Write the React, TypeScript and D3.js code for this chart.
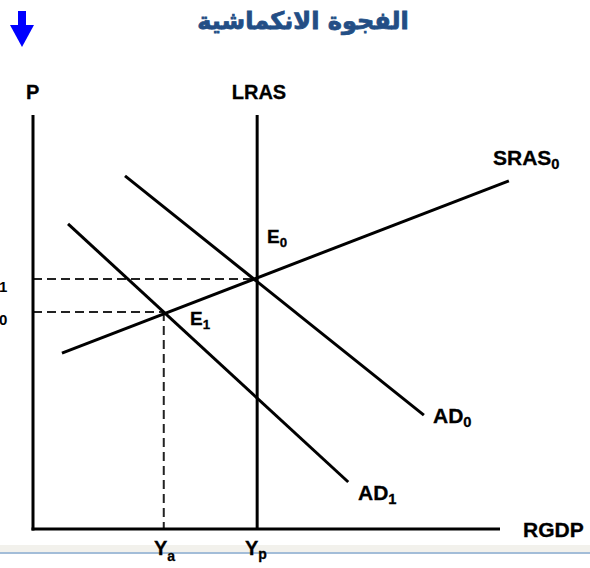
import React from "react";
import * as d3 from "d3";

const W = 590;
const H = 568;

// data-space curves (x: real GDP, y: price level)
const lrasX = 48;
const yaX = 28;
const priceLevels = [
  { name: "P1", y: 60.4, x: 48 },
  { name: "P0", y: 52.4, x: 28 },
];
const srasLine = [
  [6.2, 42.5],
  [101.9, 84.1],
];
const ad0Line = [
  [19.7, 85.3],
  [83.7, 27.5],
];
const ad1Line = [
  [7.5, 73.7],
  [67.5, 11.35],
];
const axisTop = 100;
const axisRight = 100;

export default function App() {
  const x = d3.scaleLinear().domain([0, 100]).range([33, 500]);
  const y = d3.scaleLinear().domain([0, 100]).range([529, 115]);
  const line = d3
    .line<number[]>()
    .x((d) => x(d[0]))
    .y((d) => y(d[1]));

  const font = "'Liberation Sans', Arial, sans-serif";
  const lbl = (
    tx: number,
    ty: number,
    main: string,
    sub: string | null,
    size = 21,
    anchor: "start" | "middle" | "end" = "start",
    subDy = 4
  ) => (
    <text
      x={tx}
      y={ty}
      fontFamily={font}
      fontWeight="bold"
      fontSize={size}
      fill="#000"
      stroke="#000"
      strokeWidth={0.3}
      textAnchor={anchor}
    >
      {main}
      {sub !== null && (
        <tspan fontSize={size * 0.7} dy={subDy}>
          {sub}
        </tspan>
      )}
    </text>
  );

  return (
    <svg
      width={W}
      height={H}
      style={{ position: "absolute", left: 0, top: 0, background: "#fff" }}
    >
      <rect x={0} y={0} width={W} height={H} fill="#fff" />
      {/* bottom band */}
      <rect x={0} y={545} width={W} height={8} fill="#f2f1ec" />
      <rect x={0} y={552} width={W} height={2} fill="#a3bdd8" />

      {/* title */}
      <text
        x={303}
        y={29}
        textAnchor="middle"
        fontFamily="'DejaVu Sans', sans-serif"
        fontWeight="bold"
        fontSize={24}
        fill="#234e85"
        stroke="#234e85"
        strokeWidth={0.8}
        direction="rtl"
      >
        الفجوة الانكماشية
      </text>

      {/* arrow */}
      <rect x={18} y={11} width={8} height={15} fill="#0000ff" />
      <polygon points="10,25 34,25 22,47" fill="#0000ff" />

      {/* dashed guides */}
      {priceLevels.map((p) => (
        <line
          key={p.name}
          x1={x(0)}
          x2={x(p.x)}
          y1={y(p.y)}
          y2={y(p.y)}
          stroke="#222"
          strokeWidth={2}
          strokeDasharray="9,5"
        />
      ))}
      <line
        x1={x(yaX)}
        x2={x(yaX)}
        y1={y(52.4)}
        y2={y(0)}
        stroke="#222"
        strokeWidth={2}
        strokeDasharray="9,5"
      />

      {/* axes */}
      <line x1={x(0)} x2={x(0)} y1={y(axisTop)} y2={y(0) + 1.5} stroke="#000" strokeWidth={3} />
      <line x1={x(0) - 1.5} x2={x(axisRight)} y1={y(0)} y2={y(0)} stroke="#000" strokeWidth={3} />
      <line x1={x(lrasX)} x2={x(lrasX)} y1={y(axisTop)} y2={y(0)} stroke="#000" strokeWidth={3} />

      {/* curves */}
      <path d={line(srasLine) || ""} stroke="#000" strokeWidth={3} fill="none" />
      <path d={line(ad0Line) || ""} stroke="#000" strokeWidth={3} fill="none" />
      <path d={line(ad1Line) || ""} stroke="#000" strokeWidth={3} fill="none" />

      {/* labels */}
      {lbl(26, 99, "P", null, 20)}
      {lbl(259, 99, "LRAS", null, 20, "middle")}
      {lbl(493, 165, "SRAS", "0", 21)}
      {lbl(267, 243, "E", "0", 19)}
      {lbl(190, 325, "E", "1", 19)}
      {lbl(433, 423, "AD", "0", 21)}
      {lbl(358, 500, "AD", "1", 21)}
      {lbl(523, 537, "RGDP", null, 21)}
      {lbl(154, 555, "Y", "a", 20, "start", 6)}
      {lbl(245, 555, "Y", "p", 20, "start", 4)}
      <text x={-1} y={292} fontFamily={font} fontWeight="bold" fontSize={15}>
        1
      </text>
      <text x={-1} y={325} fontFamily={font} fontWeight="bold" fontSize={15}>
        0
      </text>
    </svg>
  );
}
